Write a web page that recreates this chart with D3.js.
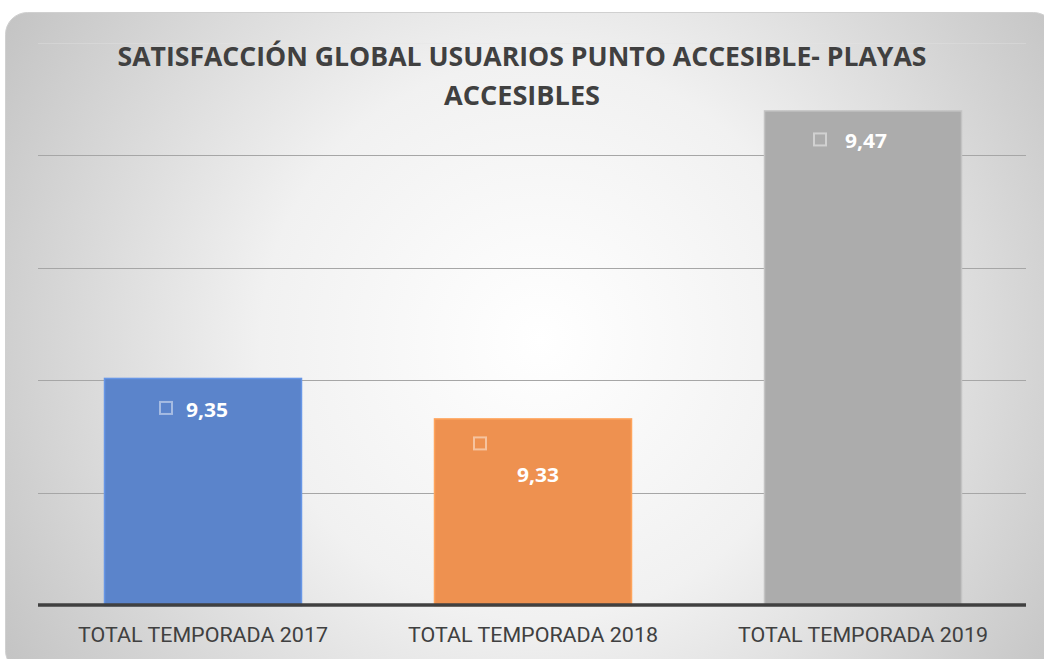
<!DOCTYPE html>
<html lang="es">
<head>
<meta charset="UTF-8">
<title>Satisfacción global usuarios</title>
<script src="https://d3js.org/d3.v7.min.js"></script>
<style>
  body { margin: 0; background: #fff; }
  svg { display: block; }
</style>
</head>
<body>
<svg width="1044" height="659"></svg>
<script>
// data
const categories = ["TOTAL TEMPORADA 2017", "TOTAL TEMPORADA 2018", "TOTAL TEMPORADA 2019"];
const values = [9.351, 9.333, 9.47];
const barColors = ["#5b84cb", "#ee9150", "#acacac"];
const gridTicks = [9.30, 9.35, 9.40, 9.45, 9.50];
const titleLines = ["SATISFACCIÓN GLOBAL USUARIOS PUNTO ACCESIBLE- PLAYAS", "ACCESIBLES"];

const svg = d3.select("svg");
const defs = svg.append("defs");

const grad = defs.append("radialGradient")
    .attr("id", "bg")
    .attr("gradientUnits", "userSpaceOnUse")
    .attr("cx", 540).attr("cy", 340).attr("r", 620);
grad.append("stop").attr("offset", "0%").attr("stop-color", "#ffffff");
grad.append("stop").attr("offset", "45%").attr("stop-color", "#f1f1f1");
grad.append("stop").attr("offset", "100%").attr("stop-color", "#c4c4c4");

// chart panel
svg.append("rect")
    .attr("x", 5.5).attr("y", 12.5)
    .attr("width", 1050).attr("height", 660)
    .attr("rx", 22)
    .attr("fill", "url(#bg)")
    .attr("stroke", "#d0d0d0");

const plot = {left: 38, right: 1028, top: 43, bottom: 605};

const x = d3.scaleBand()
    .domain(categories)
    .range([plot.left, plot.right])
    .paddingInner(0.4)
    .paddingOuter(0.2);

const y = d3.scaleLinear()
    .domain([9.25, 9.50])
    .range([plot.bottom, plot.top]);

// gridlines (top one is barely visible)
svg.append("g")
    .selectAll("line")
    .data(gridTicks)
    .join("line")
    .attr("x1", plot.left).attr("x2", 1026)
    .attr("y1", d => Math.round(y(d)) + 0.5)
    .attr("y2", d => Math.round(y(d)) + 0.5)
    .attr("stroke", (d, i) => i == gridTicks.length - 1 ? "#e4e4e4" : "#a6a6a6")
    .attr("stroke-opacity", (d, i) => i == gridTicks.length - 1 ? 0.35 : 1)
    .attr("stroke-width", 1);

// bars
svg.append("g")
    .selectAll("rect")
    .data(values)
    .join("rect")
    .attr("x", (d, i) => x(categories[i]) + 0.5)
    .attr("y", d => y(d) + 0.5)
    .attr("width", x.bandwidth() - 1)
    .attr("height", d => y(9.25) - y(d))
    .attr("fill", (d, i) => barColors[i])
    .attr("stroke", (d, i) => d3.color(barColors[i]).brighter(0.35))
    .attr("stroke-width", 1.5);

// baseline
svg.append("line")
    .attr("x1", plot.left).attr("x2", 1026)
    .attr("y1", plot.bottom).attr("y2", plot.bottom)
    .attr("stroke", "#404040")
    .attr("stroke-width", 3.5);

// x axis labels
const xAxis = svg.append("g")
    .attr("transform", `translate(0,${plot.bottom})`)
    .call(d3.axisBottom(x).tickSize(0).tickPadding(22));
xAxis.select(".domain").remove();
xAxis.selectAll("text")
    .attr("font-family", "Liberation Sans Narrow, Roboto, sans-serif")
    .attr("font-size", 21)
    .attr("fill", "#404040")
    .attr("textLength", 250)
    .attr("lengthAdjust", "spacingAndGlyphs");

// data labels: small square marker + value
const fmt = d => d3.format(".2f")(d).replace(".", ",");
const labelOffsets = [
    {sq: [-43, 24], tx: [4, 39]},
    {sq: [-59, 19], tx: [5, 64]},
    {sq: [-49, 23], tx: [3, 38]}
];
const labels = svg.append("g")
    .selectAll("g")
    .data(values)
    .join("g")
    .attr("transform", (d, i) => `translate(${x(categories[i]) + x.bandwidth() / 2},${y(d)})`);

labels.append("rect")
    .attr("x", (d, i) => labelOffsets[i].sq[0])
    .attr("y", (d, i) => labelOffsets[i].sq[1])
    .attr("width", 12).attr("height", 12)
    .attr("fill", (d, i) => barColors[i])
    .attr("stroke", (d, i) => d3.interpolateRgb(barColors[i], "#ffffff")(0.45))
    .attr("stroke-width", 2);

labels.append("text")
    .attr("x", (d, i) => labelOffsets[i].tx[0])
    .attr("y", (d, i) => labelOffsets[i].tx[1])
    .attr("text-anchor", "middle")
    .attr("font-family", "Open Sans, sans-serif")
    .attr("font-weight", "bold")
    .attr("font-size", 20)
    .attr("fill", "#ffffff")
    .attr("textLength", 42)
    .attr("lengthAdjust", "spacingAndGlyphs")
    .text(d => fmt(d));

// title
svg.append("g")
    .selectAll("text")
    .data(titleLines)
    .join("text")
    .attr("x", 522)
    .attr("y", (d, i) => 66 + i * 39)
    .attr("text-anchor", "middle")
    .attr("font-family", "Open Sans, sans-serif")
    .attr("font-weight", "bold")
    .attr("font-size", 26.5)
    .attr("fill", "#404040")
    .attr("textLength", (d, i) => i == 0 ? 809 : 156)
    .attr("lengthAdjust", "spacingAndGlyphs")
    .text(d => d);
</script>
</body>
</html>
